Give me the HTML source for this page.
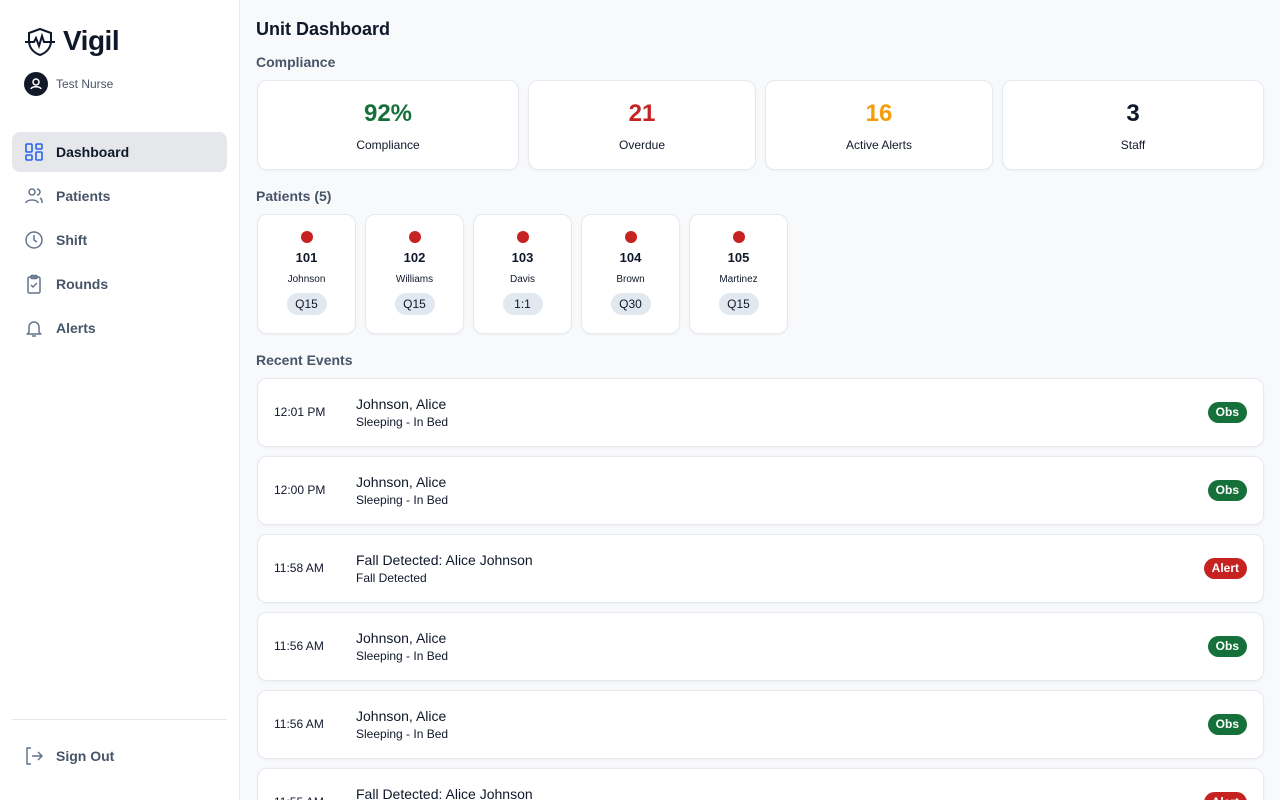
<!DOCTYPE html><html><head><style>
*{box-sizing:border-box;margin:0;padding:0}
html{width:1280px;height:800px;overflow:hidden}
body{width:1280px;height:800px;overflow:hidden;background:#f8f9fb;font-family:"Liberation Sans",sans-serif;color:#0f172a;position:relative}
.a{position:absolute}
.side{left:0;top:0;width:240px;height:800px;background:#fff;border-right:1px solid #e5e7eb}
.nav{left:12px;width:215px;height:40px;border-radius:8px;display:flex;align-items:center;padding-left:12px;font-size:14px;color:#475569;font-weight:600}
.nav svg{margin-right:12px}
.card{background:#fff;border:1px solid #e5e9f0;border-radius:10px;box-shadow:0 1px 2px rgba(0,0,0,0.04)}
.stat{top:80px;height:90px;text-align:center}
.stat b{display:block;font-size:24px;margin-top:19px;line-height:28px}
.stat span{display:block;font-size:12px;margin-top:10px}
.h{font-size:14px;font-weight:700;color:#475569}
.pc{top:214px;width:99px;height:120px;text-align:center}
.dot{width:12px;height:12px;border-radius:50%;background:#c62222;margin:16px auto 0}
.pc b{display:block;font-size:13px;margin-top:7px}
.pc .n{font-size:10px;margin-top:9px;display:block}
.pill{display:inline-block;background:#e2e8f0;border-radius:11px;height:22px;line-height:22px;width:40px;font-size:12px;margin-top:8px}
.ev{left:257px;width:1007px;height:69px}
.ev .t{position:absolute;left:16px;top:26px;font-size:12px}
.ev .ti{position:absolute;left:98px;top:17px;font-size:14px}
.ev .s{position:absolute;left:98px;top:36px;font-size:12px}
.bd{position:absolute;right:16px;top:23px;height:21px;line-height:21px;border-radius:11px;color:#fff;font-size:12px;font-weight:700;padding:0 8px}
.g{background:#16703a}.r{background:#c62222}
</style></head><body>
<div class="a side"></div>
<svg class="a" style="left:24px;top:27px" width="32" height="30" viewBox="0 0 32 30" fill="none" stroke="#0f172a" stroke-width="2"><path d="M16 2 L27 6 V14 C27 21 22 26 16 28 C10 26 5 21 5 14 V6 Z"/><path d="M1 15 H10 L12 11 L15 19 L18 9 L20 15 H31"/></svg>
<div class="a" style="left:63px;top:25px;font-size:28px;font-weight:700;letter-spacing:-0.5px">Vigil</div>
<div class="a" style="left:24px;top:72px;width:24px;height:24px;border-radius:50%;background:#111827"><svg width="24" height="24" viewBox="0 0 24 24" fill="none" stroke="#fff" stroke-width="1.5"><circle cx="12" cy="10" r="3"/><path d="M7 17c1-3 9-3 10 0"/></svg></div>
<div class="a" style="left:56px;top:77px;font-size:12px;color:#475569">Test Nurse</div>
<div class="a nav" style="top:132px;background:#e5e7eb;color:#0f172a"><svg width="20" height="20" viewBox="0 0 20 20" fill="none" stroke="#2563eb" stroke-width="1.6"><rect x="2" y="2" width="6" height="8" rx="1"/><rect x="12" y="2" width="6" height="5" rx="1"/><rect x="2" y="13" width="6" height="5" rx="1"/><rect x="12" y="10" width="6" height="8" rx="1"/></svg>Dashboard</div>
<div class="a nav" style="top:176px"><svg width="20" height="20" viewBox="0 0 20 20" fill="none" stroke="#64748b" stroke-width="1.5"><circle cx="8" cy="6" r="3"/><path d="M2 17c0-4 12-4 12 0M13 3a3 3 0 010 6M16 12c2 1 2 3 2 5"/></svg>Patients</div>
<div class="a nav" style="top:220px"><svg width="20" height="20" viewBox="0 0 20 20" fill="none" stroke="#64748b" stroke-width="1.5"><circle cx="10" cy="10" r="8"/><path d="M10 5v5l3 2"/></svg>Shift</div>
<div class="a nav" style="top:264px"><svg width="20" height="20" viewBox="0 0 20 20" fill="none" stroke="#64748b" stroke-width="1.5"><rect x="4" y="3" width="12" height="16" rx="1.5"/><rect x="7" y="1.5" width="6" height="3" rx="1"/><path d="M7 11l2 2 4-4"/></svg>Rounds</div>
<div class="a nav" style="top:308px"><svg width="20" height="20" viewBox="0 0 20 20" fill="none" stroke="#64748b" stroke-width="1.5"><path d="M5 14V9a5 5 0 0110 0v5l1.5 2h-13zM8 18h4"/></svg>Alerts</div>
<div class="a" style="left:12px;top:719px;width:215px;height:1px;background:#e5e7eb"></div>
<div class="a nav" style="top:736px"><svg width="20" height="20" viewBox="0 0 20 20" fill="none" stroke="#64748b" stroke-width="1.5"><path d="M7 2H3v16h4M8 10h10M14 6l4 4-4 4"/></svg>Sign Out</div>

<div class="a" style="left:256px;top:19px;font-size:18px;font-weight:700">Unit Dashboard</div>
<div class="a h" style="left:256px;top:54px">Compliance</div>
<div class="a card stat" style="left:257px;width:262px"><b style="color:#16703a">92%</b><span>Compliance</span></div>
<div class="a card stat" style="left:528px;width:228px"><b style="color:#c62222">21</b><span>Overdue</span></div>
<div class="a card stat" style="left:765px;width:228px"><b style="color:#f59e0b">16</b><span>Active Alerts</span></div>
<div class="a card stat" style="left:1002px;width:262px"><b>3</b><span>Staff</span></div>
<div class="a h" style="left:256px;top:188px">Patients (5)</div>
<div class="a card pc" style="left:257px"><div class="dot"></div><b>101</b><span class="n">Johnson</span><span class="pill">Q15</span></div>
<div class="a card pc" style="left:365px"><div class="dot"></div><b>102</b><span class="n">Williams</span><span class="pill">Q15</span></div>
<div class="a card pc" style="left:473px"><div class="dot"></div><b>103</b><span class="n">Davis</span><span class="pill">1:1</span></div>
<div class="a card pc" style="left:581px"><div class="dot"></div><b>104</b><span class="n">Brown</span><span class="pill">Q30</span></div>
<div class="a card pc" style="left:689px"><div class="dot"></div><b>105</b><span class="n">Martinez</span><span class="pill">Q15</span></div>
<div class="a h" style="left:256px;top:352px">Recent Events</div>
<div class="a card ev" style="top:378px"><span class="t">12:01 PM</span><span class="ti">Johnson, Alice</span><span class="s">Sleeping - In Bed</span><span class="bd g">Obs</span></div>
<div class="a card ev" style="top:456px"><span class="t">12:00 PM</span><span class="ti">Johnson, Alice</span><span class="s">Sleeping - In Bed</span><span class="bd g">Obs</span></div>
<div class="a card ev" style="top:534px"><span class="t">11:58 AM</span><span class="ti">Fall Detected: Alice Johnson</span><span class="s">Fall Detected</span><span class="bd r">Alert</span></div>
<div class="a card ev" style="top:612px"><span class="t">11:56 AM</span><span class="ti">Johnson, Alice</span><span class="s">Sleeping - In Bed</span><span class="bd g">Obs</span></div>
<div class="a card ev" style="top:690px"><span class="t">11:56 AM</span><span class="ti">Johnson, Alice</span><span class="s">Sleeping - In Bed</span><span class="bd g">Obs</span></div>
<div class="a card ev" style="top:768px"><span class="t">11:55 AM</span><span class="ti">Fall Detected: Alice Johnson</span><span class="s">Fall Detected</span><span class="bd r">Alert</span></div>
</body></html>
